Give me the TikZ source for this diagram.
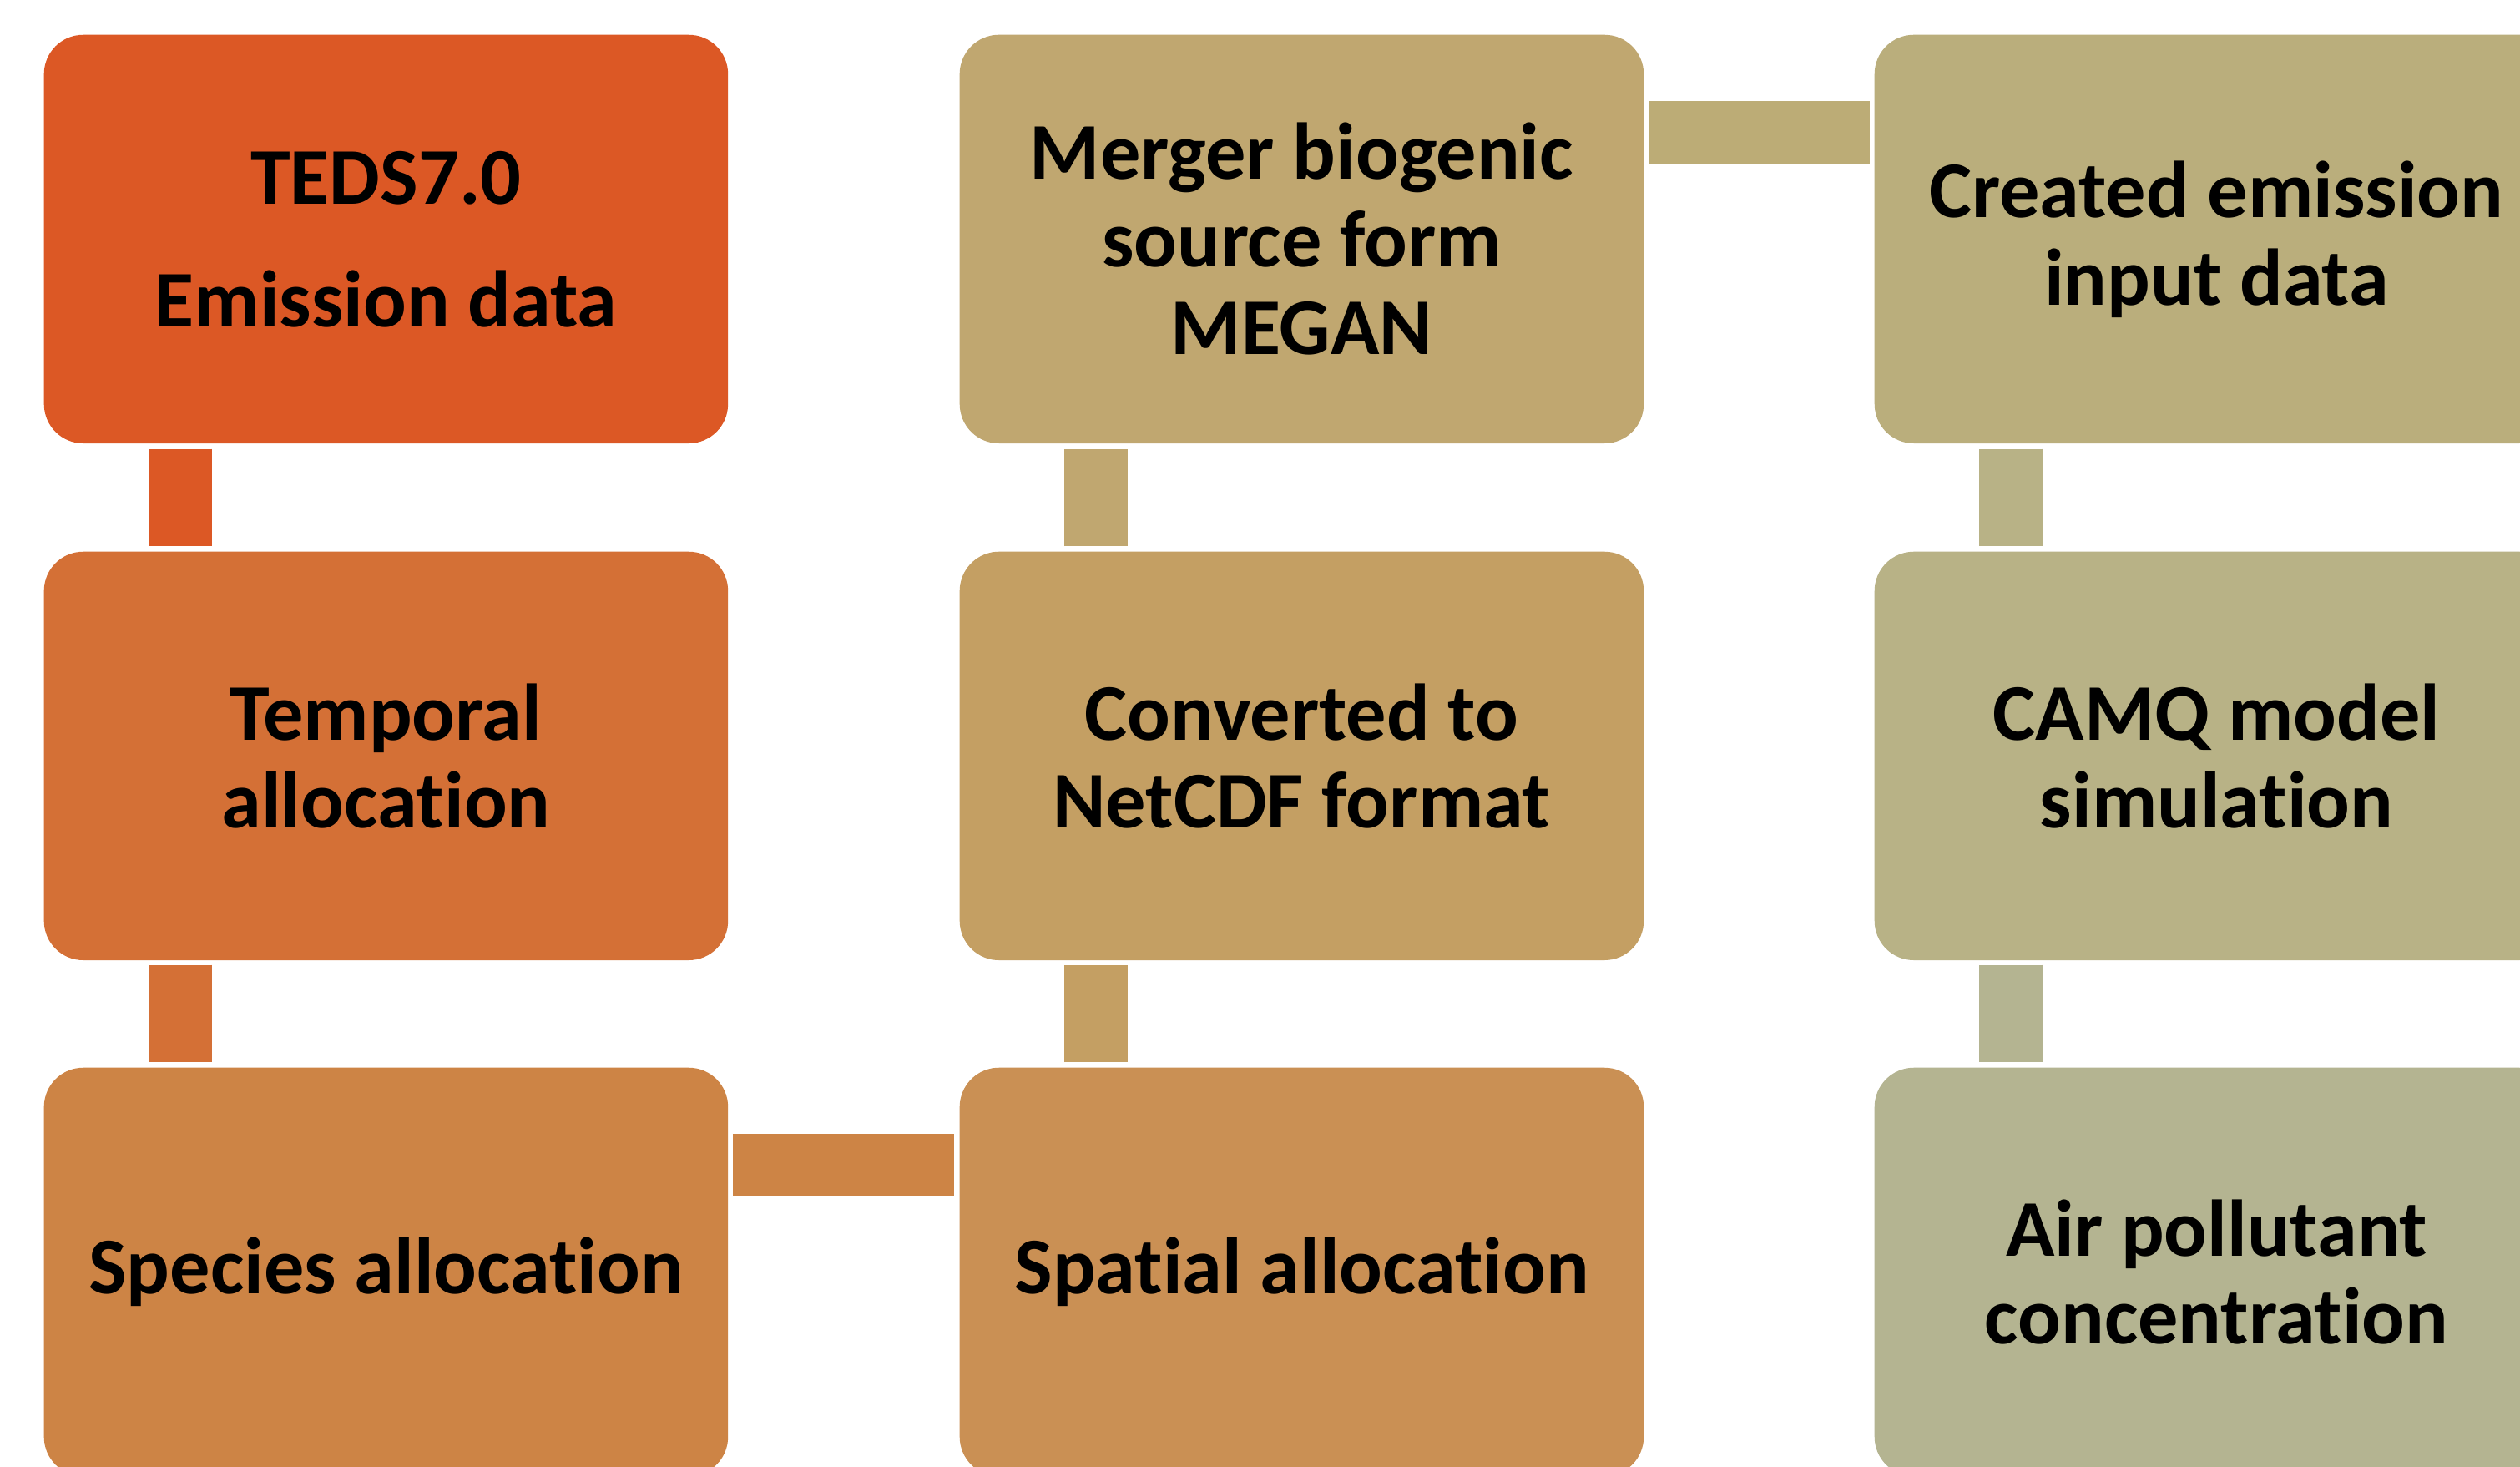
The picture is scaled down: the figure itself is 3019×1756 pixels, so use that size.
\documentclass[tikz,border=0pt]{standalone}
\usepackage{fontspec}
\setmainfont{Carlito}[Ligatures={NoCommon}]
\usetikzlibrary{calc}
\definecolor{cAa}{RGB}{220,88,37}
\definecolor{cAb}{RGB}{212,112,54}
\definecolor{cAc}{RGB}{205,132,69}
\definecolor{cBa}{RGB}{192,167,112}
\definecolor{cBb}{RGB}{196,159,99}
\definecolor{cBc}{RGB}{202,144,84}
\definecolor{cCa}{RGB}{186,174,124}
\definecolor{cCb}{RGB}{184,178,134}
\definecolor{cCc}{RGB}{180,180,145}
\definecolor{cTop}{RGB}{188,172,118}
\begin{document}
\begin{tikzpicture}[x=0.01cm,y=-0.01cm,
  box/.style={rectangle, rounded corners=0.47cm, minimum width=8.19cm, minimum height=4.89cm,
    inner sep=0pt, align=center, anchor=north west, text=black,
    font=\fontsize{27.4pt}{29.9pt}\selectfont\bfseries},
  conn/.style={line width=0.76cm},
  hconn/.style={line width=0.75cm}]
\useasboundingbox (0,0) rectangle (3019,1756);
\clip (0,0) rectangle (3019,1756);
\fill[white] (0,0) rectangle (3019,1756);
% column 1
\node[box, fill=cAa] (a1) at (52,41) {TEDS7.0\\[0.42cm]Emission data};
\node[box, fill=cAb] (a2) at (52,660) {Temporal\\allocation};
\node[box, fill=cAc] (a3) at (52,1278) {Species allocation};
% column 2
\node[box, fill=cBa] (b1) at (1149,41) {Merger biogenic\\source form\\MEGAN};
\node[box, fill=cBb] (b2) at (1149,660) {Converted to\\NetCDF format};
\node[box, fill=cBc] (b3) at (1149,1278) {Spatial allocation};
% column 3
\node[box, fill=cCa] (c1) at (2245,41) {Created emission\\input data};
\node[box, fill=cCb] (c2) at (2245,660) {CAMQ model\\simulation};
\node[box, fill=cCc] (c3) at (2245,1278) {Air pollutant\\concentration};
% connectors
\draw[conn, draw=cAa] ($(a1.south west)+(164,6)$) -- ($(a2.north west)+(164,-6)$);
\draw[conn, draw=cAb] ($(a2.south west)+(164,5)$) -- ($(a3.north west)+(164,-6)$);
\draw[hconn, draw=cAc] ($(a3.north east)+(5,117.5)$) -- ($(b3.north west)+(-6,117.5)$);
\draw[conn, draw=cBb] ($(b3.north west)+(164,-6)$) -- ($(b2.south west)+(164,5)$);
\draw[conn, draw=cBa] ($(b2.north west)+(164,-6)$) -- ($(b1.south west)+(164,6)$);
\draw[hconn, draw=cTop] ($(b1.north east)+(6,118)$) -- ($(c1.north west)+(-5,118)$);
\draw[conn, draw=cCb] ($(c1.south west)+(164,6)$) -- ($(c2.north west)+(164,-6)$);
\draw[conn, draw=cCc] ($(c2.south west)+(164,5)$) -- ($(c3.north west)+(164,-6)$);
\end{tikzpicture}
\end{document}
